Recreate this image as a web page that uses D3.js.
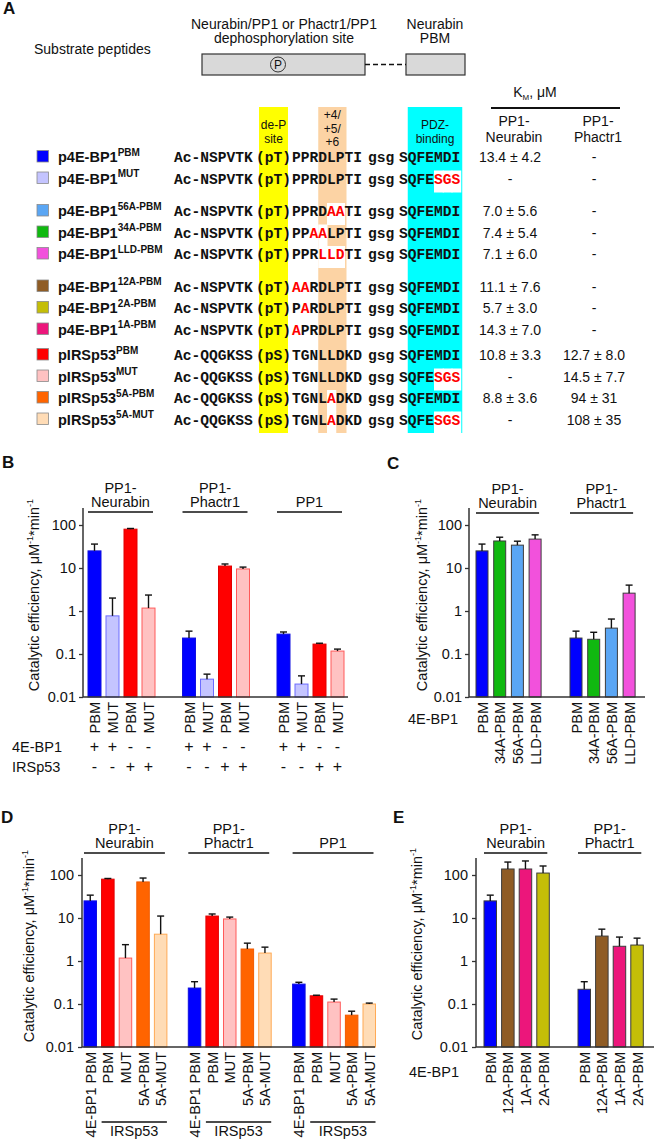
<!DOCTYPE html>
<html>
<head>
<meta charset="utf-8">
<script src="https://cdn.jsdelivr.net/npm/d3@7"></script>
<style>
  body { margin: 0; background: #fff; }
  svg { display: block; font-family: "Liberation Sans", Arial, sans-serif; }
</style>
</head>
<body>
<div id="figure"></div>
<script>
// ---------- Panel A: substrate peptides ----------
const peptideNames = ["p4E-BP1", "p4E-BP1", "p4E-BP1", "p4E-BP1", "p4E-BP1", "p4E-BP1", "p4E-BP1", "p4E-BP1", "pIRSp53", "pIRSp53", "pIRSp53", "pIRSp53"];
const peptideVariants = ["PBM", "MUT", "56A-PBM", "34A-PBM", "LLD-PBM", "12A-PBM", "2A-PBM", "1A-PBM", "PBM", "MUT", "5A-PBM", "5A-MUT"];
const peptideBlocks = [0, 0, 1, 1, 1, 2, 2, 2, 3, 3, 3, 3];
const peptideColors = ["#0000ff", "#c4c4ff", "#5aa6f4", "#10b910", "#f251dc", "#8f5c25", "#c4be08", "#ec167b", "#ff0000", "#ffc2c2", "#ff6400", "#ffdcb6"];
const peptideEdges = ["#1010e0", "#6c6cff", "#3c7fd0", "#0a900a", "#c83cb4", "#6a4418", "#9a9400", "#c01060", "#e00000", "#ff5a5a", "#f05a00", "#ffaa55"];
const seqPrefix = ["Ac-NSPVTK", "Ac-NSPVTK", "Ac-NSPVTK", "Ac-NSPVTK", "Ac-NSPVTK", "Ac-NSPVTK", "Ac-NSPVTK", "Ac-NSPVTK", "Ac-QQGKSS", "Ac-QQGKSS", "Ac-QQGKSS", "Ac-QQGKSS"];
const seqSite = ["(pT)", "(pT)", "(pT)", "(pT)", "(pT)", "(pT)", "(pT)", "(pT)", "(pS)", "(pS)", "(pS)", "(pS)"];
const seqCore = ["PPRDLPTI", "PPRDLPTI", "PPRDAATI", "PPAALPTI", "PPRLLDTI", "AARDLPTI", "PARDLPTI", "APRDLPTI", "TGNLLDKD", "TGNLLDKD", "TGNLADKD", "TGNLADKD"];
const seqCoreMutations = [[], [], [4, 5], [2, 3], [3, 4, 5], [0, 1], [1], [0], [], [], [4], [4]];
const seqTail = ["SQFEMDI", "SQFESGS", "SQFEMDI", "SQFEMDI", "SQFEMDI", "SQFEMDI", "SQFEMDI", "SQFEMDI", "SQFEMDI", "SQFESGS", "SQFEMDI", "SQFESGS"];
const seqTailMutations = [[], [4, 5, 6], [], [], [], [], [], [], [], [4, 5, 6], [], [4, 5, 6]];
const kmNeurabin = ["13.4 ± 4.2", "-", "7.0 ± 5.6", "7.4 ± 5.4", "7.1 ± 6.0", "11.1 ± 7.6", "5.7 ± 3.0", "14.3 ± 7.0", "10.8 ± 3.3", "-", "8.8 ± 3.6", "-"];
const kmPhactr1 = ["-", "-", "-", "-", "-", "-", "-", "-", "12.7 ± 8.0", "14.5 ± 7.7", "94 ± 31", "108 ± 35"];

// ---------- Bar panels (catalytic efficiency, uM-1*min-1) ----------
const logTicks = [0.01, 0.1, 1, 10, 100];
const logTickLabels = ["0.01", "0.1", "1", "10", "100"];

const bGroups = [["PP1-", "Neurabin"], ["PP1-", "Phactr1"], ["PP1"]];
const bKeys = ["p4E-BP1 PBM", "p4E-BP1 MUT", "pIRSp53 PBM", "pIRSp53 MUT"];
const bBarLabels = ["PBM", "MUT", "PBM", "MUT"];
const b4EBP1Signs = ["+", "+", "-", "-"];
const bIRSp53Signs = ["-", "-", "+", "+"];
const bValues = [[25, 0.77, 80, 1.17], [0.235, 0.026, 11.1, 9.5], [0.29, 0.02, 0.17, 0.117]];
const bUpper = [[36, 2.0, 83, 2.35], [0.34, 0.034, 12.4, 10.5], [0.325, 0.031, 0.178, 0.13]];

const cGroups = [["PP1-", "Neurabin"], ["PP1-", "Phactr1"]];
const cKeys = ["p4E-BP1 PBM", "p4E-BP1 34A-PBM", "p4E-BP1 56A-PBM", "p4E-BP1 LLD-PBM"];
const cBarLabels = ["PBM", "34A-PBM", "56A-PBM", "LLD-PBM"];
const cValues = [[25, 42.5, 34, 47], [0.235, 0.22, 0.4, 2.6]];
const cUpper = [[36, 52, 42, 59], [0.34, 0.32, 0.65, 4.0]];

const dGroups = [["PP1-", "Neurabin"], ["PP1-", "Phactr1"], ["PP1"]];
const dKeys = ["p4E-BP1 PBM", "pIRSp53 PBM", "pIRSp53 MUT", "pIRSp53 5A-PBM", "pIRSp53 5A-MUT"];
const dBarLabels = ["4E-BP1 PBM", "PBM", "MUT", "5A-PBM", "5A-MUT"];
const dValues = [[25, 80, 1.17, 69, 4.2], [0.235, 11.1, 9.5, 1.9, 1.53], [0.29, 0.155, 0.111, 0.055, 0.1]];
const dUpper = [[34, 83, 2.4, 85, 11.1], [0.33, 12.4, 10.5, 2.6, 2.1], [0.32, 0.16, 0.13, 0.068, 0.105]];

const eGroups = [["PP1-", "Neurabin"], ["PP1-", "Phactr1"]];
const eKeys = ["p4E-BP1 PBM", "p4E-BP1 12A-PBM", "p4E-BP1 1A-PBM", "p4E-BP1 2A-PBM"];
const eBarLabels = ["PBM", "12A-PBM", "1A-PBM", "2A-PBM"];
const eValues = [[25, 138, 138, 111], [0.22, 3.8, 2.2, 2.35]];
const eUpper = [[34, 200, 212, 162], [0.33, 5.5, 3.6, 3.4]];

const width = 654;
const height = 1140;
const ink = "#111";
const axisColor = "#333";

const peptideKeys = peptideNames.map((n, i) => n + " " + peptideVariants[i]);
const colorScale = d3.scaleOrdinal().domain(peptideKeys).range(peptideColors);
const edgeScale = d3.scaleOrdinal().domain(peptideKeys).range(peptideEdges);

const svg = d3
  .select("#figure")
  .append("svg")
  .attr("viewBox", [0, 0, width, height])
  .attr("width", width)
  .attr("height", height);

// panel letters
[["A", 3, 14], ["B", 2, 468], ["C", 387, 469], ["D", 1, 823], ["E", 393, 823]].forEach(([t, x, y]) => {
  svg.append("text").text(t).attr("x", x).attr("y", y)
    .attr("font-size", 17).attr("font-weight", 700).attr("fill", ink);
});

// ---------- Panel A ----------
const drawPanelA = () => {
  const g = svg.append("g").attr("fill", ink);

  g.append("text").text("Substrate peptides").attr("x", 34).attr("y", 54).attr("font-size", 14);

  const header = g.append("text").attr("text-anchor", "middle").attr("font-size", 14);
  header.append("tspan").attr("x", 284).attr("y", 29).text("Neurabin/PP1 or Phactr1/PP1");
  header.append("tspan").attr("x", 284).attr("y", 43).text("dephosphorylation site");
  const pbmHeader = g.append("text").attr("text-anchor", "middle").attr("font-size", 14);
  pbmHeader.append("tspan").attr("x", 435).attr("y", 29).text("Neurabin");
  pbmHeader.append("tspan").attr("x", 435).attr("y", 43).text("PBM");

  g.append("rect").attr("x", 202).attr("y", 54).attr("width", 163).attr("height", 21)
    .attr("fill", "#d9d9d9").attr("stroke", axisColor).attr("stroke-width", 1.2);
  g.append("rect").attr("x", 406).attr("y", 54).attr("width", 59).attr("height", 21)
    .attr("fill", "#d9d9d9").attr("stroke", axisColor).attr("stroke-width", 1.2);
  g.append("line").attr("x1", 365).attr("x2", 406).attr("y1", 64.5).attr("y2", 64.5)
    .attr("stroke", ink).attr("stroke-width", 1.5).attr("stroke-dasharray", "5 3");
  g.append("circle").attr("cx", 278).attr("cy", 64.5).attr("r", 7.5)
    .attr("fill", "none").attr("stroke", axisColor).attr("stroke-width", 1);
  g.append("text").text("P").attr("x", 278).attr("y", 69).attr("text-anchor", "middle").attr("font-size", 12);

  // K_M header
  const km = g.append("text").attr("x", 535).attr("y", 97).attr("text-anchor", "middle").attr("font-size", 14);
  km.append("tspan").text("K");
  km.append("tspan").text("M").attr("font-size", 8).attr("dy", 3);
  km.append("tspan").text(", μM").attr("dy", -3);
  g.append("line").attr("x1", 491).attr("x2", 620).attr("y1", 108).attr("y2", 108)
    .attr("stroke", ink).attr("stroke-width", 2);
  [["PP1-", "Neurabin", 514], ["PP1-", "Phactr1", 598]].forEach(([a, b, x]) => {
    g.append("text").attr("text-anchor", "middle").attr("font-size", 14).attr("x", x).attr("y", 126).text(a);
    g.append("text").attr("text-anchor", "middle").attr("font-size", 14).attr("x", x).attr("y", 142).text(b);
  });

  // sequence grid
  const cw = 8.75;
  const prefixX = 174;
  const siteX = 256;
  const coreX = 292;
  const gsgX = 368;
  const tailX = 399;
  const bandTop = 107;
  const bandBottom = 433;
  const blockShift = [0, 11, 22, 26];
  const rowY = (i) => 162 + i * 21.5 + blockShift[peptideBlocks[i]];

  const bands = [
    { x: siteX + 3, w: 29, fill: "#ffff00", lines: ["de-P", "site"], y0: 129, step: 13.5 },
    { x: coreX + 3 * cw, w: 3 * cw + 2, fill: "#fcd3a4", lines: ["+4/", "+5/", "+6"], y0: 119, step: 13.5 },
    { x: tailX + cw, w: 6 * cw + 2, fill: "#00ffff", lines: ["PDZ-", "binding"], y0: 129, step: 13.5 },
  ];
  bands.forEach((b) => {
    g.append("rect").attr("x", b.x).attr("y", bandTop).attr("width", b.w)
      .attr("height", bandBottom - bandTop).attr("fill", b.fill);
    b.lines.forEach((l, k) => {
      g.append("text").attr("text-anchor", "middle").attr("font-size", 12)
        .attr("x", b.x + b.w / 2).attr("y", b.y0 + k * b.step).text(l);
    });
  });

  // white patches behind mutated residues inside highlighted columns
  const patches = [];
  seqCoreMutations.forEach((m, i) => m.filter((k) => k >= 3 && k <= 5)
    .forEach((k) => patches.push({ x: coreX + k * cw, w: cw + 0.5, y: rowY(i) })));
  seqTailMutations.forEach((m, i) => m.forEach((k) => patches.push({ x: tailX + k * cw, w: cw + 1, y: rowY(i) })));
  g.append("g").selectAll("rect").data(patches).join("rect")
    .attr("x", (d) => d.x).attr("width", (d) => d.w)
    .attr("y", (d) => d.y - 13)
    .attr("height", (d) => Math.min(22, bandBottom - (d.y - 13)))
    .attr("fill", "#fff");

  const rows = g.append("g").selectAll("g").data(peptideNames).join("g");

  rows.append("rect")
    .attr("x", 37).attr("y", (d, i) => rowY(i) - 11.5)
    .attr("width", 11.5).attr("height", 11.5)
    .attr("fill", (d, i) => colorScale(peptideKeys[i]))
    .attr("stroke", "#8a8a8a").attr("stroke-width", 0.8);

  const name = rows.append("text").attr("x", 58).attr("y", (d, i) => rowY(i))
    .attr("font-size", 14.5).attr("font-weight", 700);
  name.append("tspan").text((d) => d);
  name.append("tspan").text((d, i) => peptideVariants[i]).attr("font-size", 10).attr("dy", -6.5);

  const mono = (sel) => sel.attr("font-family", "'Liberation Mono', 'Courier New', monospace")
    .attr("font-weight", 700).attr("font-size", cw / 0.6);

  rows.append("text").call(mono).attr("x", prefixX).attr("y", (d, i) => rowY(i)).text((d, i) => seqPrefix[i]);
  rows.append("text").call(mono).attr("x", siteX).attr("y", (d, i) => rowY(i)).text((d, i) => seqSite[i]);
  rows.append("text").call(mono).attr("x", gsgX).attr("y", (d, i) => rowY(i)).text("gsg");

  rows.each(function (d, i) {
    const row = d3.select(this);
    [[seqCore[i], seqCoreMutations[i], coreX], [seqTail[i], seqTailMutations[i], tailX]].forEach(([s, muts, x0]) => {
      const t = row.append("text").call(mono).attr("x", x0).attr("y", rowY(i));
      s.split("").forEach((ch, k) => {
        t.append("tspan").text(ch).attr("fill", muts.includes(k) ? "#ff0000" : ink);
      });
    });
  });

  rows.append("text").attr("x", 510).attr("y", (d, i) => rowY(i)).attr("text-anchor", "middle")
    .attr("font-size", 14).text((d, i) => kmNeurabin[i]);
  rows.append("text").attr("x", 594).attr("y", (d, i) => rowY(i)).attr("text-anchor", "middle")
    .attr("font-size", 14).text((d, i) => kmPhactr1[i]);
};

// ---------- generic log bar panel ----------
const drawBarPanel = (cfg) => {
  const nBars = cfg.keys.length;
  const y = d3.scaleLog().domain([0.01, 100]).range([cfg.baseY, cfg.baseY - 4 * cfg.decade]);
  const xGroup = d3.scaleBand().domain(d3.range(cfg.values.length))
    .range([cfg.x0, cfg.x0 + cfg.values.length * cfg.groupStep]);
  const xBar = d3.scaleBand().domain(d3.range(nBars)).range([0, nBars * cfg.barStep]);
  const barX = (g, i) => xGroup(g) + xBar(i);
  const barCx = (g, i) => barX(g, i) + cfg.barWidth / 2;

  const bars = [];
  cfg.values.forEach((row, g) => row.forEach((v, i) => {
    bars.push({ g, i, key: cfg.keys[i], value: v, upper: cfg.upper[g][i] });
  }));

  const panel = svg.append("g").attr("fill", ink);

  // bars
  panel.append("g").selectAll("rect").data(bars).join("rect")
    .attr("x", (d) => barX(d.g, d.i))
    .attr("y", (d) => y(d.value))
    .attr("width", cfg.barWidth)
    .attr("height", (d) => y(0.01) - y(d.value))
    .attr("fill", (d) => colorScale(d.key))
    .attr("stroke", (d) => (cfg.darkStroke ? "#3c3c3c" : edgeScale(d.key)))
    .attr("stroke-width", 1);

  // error bars (upper only)
  const err = panel.append("g").attr("stroke", ink).attr("stroke-width", 1.4)
    .selectAll("g").data(bars).join("g");
  err.append("line")
    .attr("x1", (d) => barCx(d.g, d.i)).attr("x2", (d) => barCx(d.g, d.i))
    .attr("y1", (d) => y(d.value)).attr("y2", (d) => y(d.upper));
  err.append("line")
    .attr("x1", (d) => barCx(d.g, d.i) - 3.5).attr("x2", (d) => barCx(d.g, d.i) + 3.5)
    .attr("y1", (d) => y(d.upper)).attr("y2", (d) => y(d.upper));

  // axes
  const axisG = panel.append("g")
    .attr("transform", `translate(${cfg.axisX},0)`)
    .call(d3.axisLeft(y).tickValues(logTicks).tickFormat((d, i) => logTickLabels[i])
      .tickSize(4).tickPadding(cfg.tickPad));
  axisG.attr("font-size", 14.5).attr("font-family", null);
  axisG.select(".domain").remove();
  axisG.selectAll(".tick line").attr("stroke", axisColor).attr("stroke-width", 1.3);
  axisG.selectAll(".tick text").attr("fill", ink);

  panel.append("line")
    .attr("x1", cfg.axisX).attr("x2", cfg.axisX)
    .attr("y1", y(0.01)).attr("y2", y(100) - 17)
    .attr("stroke", axisColor).attr("stroke-width", 1.5);
  panel.append("line")
    .attr("x1", cfg.axisX).attr("x2", cfg.xEnd)
    .attr("y1", y(0.01)).attr("y2", y(0.01))
    .attr("stroke", axisColor).attr("stroke-width", 1.5);

  // y label
  const yl = panel.append("text")
    .attr("transform", `translate(${cfg.labelX},${cfg.labelY}) rotate(-90)`)
    .attr("text-anchor", "middle").attr("font-size", 14.5);
  yl.append("tspan").text("Catalytic efficiency, μM");
  yl.append("tspan").text("-1").attr("font-size", 9).attr("dy", -6);
  yl.append("tspan").text("*min").attr("dy", 6);
  yl.append("tspan").text("-1").attr("font-size", 9).attr("dy", -6);

  // group headers
  cfg.groups.forEach((lines, g) => {
    const x1 = barX(g, 0);
    const x2 = barX(g, nBars - 1) + cfg.barWidth - 2;
    panel.append("line").attr("x1", x1).attr("x2", x2)
      .attr("y1", cfg.headerLineY).attr("y2", cfg.headerLineY)
      .attr("stroke", ink).attr("stroke-width", 1.6);
    const t = panel.append("text").attr("text-anchor", "middle").attr("font-size", 14.5);
    lines.forEach((l, k) => {
      t.append("tspan").attr("x", (x1 + x2) / 2)
        .attr("y", cfg.headerLineY - 5 - (lines.length - 1 - k) * 14.5).text(l);
    });
  });

  // rotated bar labels
  panel.append("g").selectAll("text").data(bars).join("text")
    .attr("transform", (d) => `translate(${barCx(d.g, d.i) + 5.5},${y(0.01) + 5}) rotate(-90)`)
    .attr("text-anchor", "end").attr("font-size", 14.5)
    .text((d) => cfg.barLabels[d.i]);

  return { panel, barX, barCx, y };
};

drawPanelA();

// ---------- Panel B ----------
const panelB = drawBarPanel({
  groups: bGroups, keys: bKeys, barLabels: bBarLabels, values: bValues, upper: bUpper,
  x0: 88, groupStep: 94.5, barStep: 18, barWidth: 13,
  axisX: 83, xEnd: 348, baseY: 697, decade: 43, tickPad: 3,
  headerLineY: 512, labelX: 39, labelY: 595, darkStroke: false,
});
[["4E-BP1", b4EBP1Signs, 752], ["IRSp53", bIRSp53Signs, 772]].forEach(([label, signs, yy]) => {
  panelB.panel.append("text").text(label).attr("x", 12).attr("y", yy).attr("font-size", 14.5);
  bGroups.forEach((grp, g) => {
    signs.forEach((s, i) => {
      panelB.panel.append("text").text(s).attr("x", panelB.barCx(g, i)).attr("y", yy)
        .attr("text-anchor", "middle").attr("font-size", 16);
    });
  });
});

// ---------- Panel C ----------
const panelC = drawBarPanel({
  groups: cGroups, keys: cKeys, barLabels: cBarLabels, values: cValues, upper: cUpper,
  x0: 476, groupStep: 94, barStep: 17.7, barWidth: 12,
  axisX: 469, xEnd: 645, baseY: 697, decade: 43, tickPad: 3,
  headerLineY: 513, labelX: 427, labelY: 595, darkStroke: true,
});
panelC.panel.append("text").text("4E-BP1").attr("x", 458).attr("y", 724)
  .attr("text-anchor", "end").attr("font-size", 14.5);

// ---------- Panel D ----------
const panelD = drawBarPanel({
  groups: dGroups, keys: dKeys, barLabels: dBarLabels, values: dValues, upper: dUpper,
  x0: 84, groupStep: 104.3, barStep: 17.6, barWidth: 12.5,
  axisX: 82, xEnd: 375, baseY: 1047, decade: 43, tickPad: 4,
  headerLineY: 853, labelX: 34, labelY: 946, darkStroke: false,
});
dGroups.forEach((grp, g) => {
  const x1 = panelD.barX(g, 1);
  const x2 = panelD.barX(g, dKeys.length - 1) + 12.5;
  panelD.panel.append("line").attr("x1", x1).attr("x2", x2).attr("y1", 1122).attr("y2", 1122)
    .attr("stroke", ink).attr("stroke-width", 1.6);
  panelD.panel.append("text").text("IRSp53").attr("x", (x1 + x2) / 2).attr("y", 1136)
    .attr("text-anchor", "middle").attr("font-size", 14.5);
});

// ---------- Panel E ----------
const panelE = drawBarPanel({
  groups: eGroups, keys: eKeys, barLabels: eBarLabels, values: eValues, upper: eUpper,
  x0: 484, groupStep: 94, barStep: 17.6, barWidth: 12.5,
  axisX: 476, xEnd: 654, baseY: 1047, decade: 43, tickPad: 4,
  headerLineY: 853, labelX: 422, labelY: 944, darkStroke: true,
});
panelE.panel.append("text").text("4E-BP1").attr("x", 459).attr("y", 1077)
  .attr("text-anchor", "end").attr("font-size", 14.5);
</script>
</body>
</html>
